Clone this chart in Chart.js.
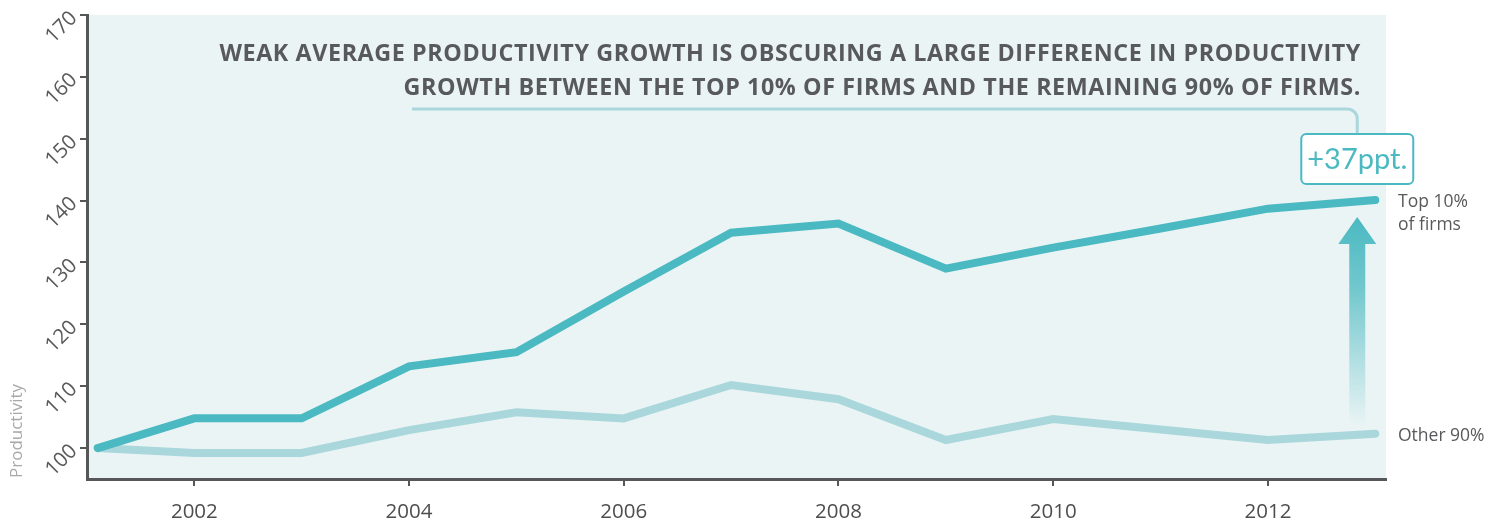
<!DOCTYPE html>
<html>
<head>
<meta charset="utf-8">
<script src="https://cdn.jsdelivr.net/npm/chart.js@4"></script>
<style>
  html, body { margin: 0; padding: 0; background: #ffffff; }
  #wrap { width: 1503px; height: 525px; position: relative; }
</style>
</head>
<body>
<div id="wrap"><canvas id="chart"></canvas></div>
<script>
// Productivity index (2001 = 100)
const years = [2001.1, 2002, 2003, 2004, 2005, 2006, 2007, 2008, 2009, 2010, 2011, 2012, 2013];
const top10 = [100, 104.8, 104.8, 113.2, 115.5, 125.3, 134.8, 136.3, 129.0, 132.4, 135.5, 138.7, 140.1];
const other90 = [100, 99.2, 99.2, 102.9, 105.8, 104.8, 110.2, 107.9, 101.3, 104.7, 103.0, 101.3, 102.3];
const xTickValues = [2002, 2004, 2006, 2008, 2010, 2012];
const yTickValues = [100, 110, 120, 130, 140, 150, 160, 170];
const seriesNames = ['Top 10%\nof firms', 'Other 90%'];
const gapLabel = '+37ppt.';
const titleLines = [
  'WEAK AVERAGE PRODUCTIVITY GROWTH IS OBSCURING A LARGE DIFFERENCE IN PRODUCTIVITY',
  'GROWTH BETWEEN THE TOP 10% OF FIRMS AND THE REMAINING 90% OF FIRMS.'
];
const yAxisTitle = 'Productivity';

const TEAL = '#4bb9c1';
const PALE = '#a9d7db';
const AXIS = '#555759';
const TEXT = '#58595b';

const toPoints = (vals) => vals.map((v, i) => ({ x: years[i], y: v }));

const decor = {
  id: 'decor',
  beforeDraw(chart) {
    const { ctx, chartArea: a } = chart;
    ctx.save();
    ctx.fillStyle = '#eaf4f5';
    ctx.fillRect(a.left, a.top, a.right - a.left, a.bottom - a.top);
    ctx.restore();
  },
  beforeDatasetsDraw(chart) {
    // gradient arrow between the two end values
    const { ctx, scales: { x, y } } = chart;
    const n = years.length - 1;
    const ax = x.getPixelForValue(years[n]) - 18;
    const tipY = y.getPixelForValue(top10[n]) + 17;
    const baseY = y.getPixelForValue(other90[n]) - 8;
    const headH = 27, headW = 19, shaftW = 8;
    const g = ctx.createLinearGradient(0, tipY, 0, baseY);
    g.addColorStop(0, 'rgba(75,185,193,1)');
    g.addColorStop(0.35, 'rgba(75,185,193,0.75)');
    g.addColorStop(1, 'rgba(75,185,193,0)');
    ctx.save();
    ctx.fillStyle = g;
    ctx.beginPath();
    ctx.moveTo(ax, tipY);
    ctx.lineTo(ax + headW, tipY + headH);
    ctx.lineTo(ax + shaftW, tipY + headH);
    ctx.lineTo(ax + shaftW, baseY);
    ctx.lineTo(ax - shaftW, baseY);
    ctx.lineTo(ax - shaftW, tipY + headH);
    ctx.lineTo(ax - headW, tipY + headH);
    ctx.closePath();
    ctx.fill();
    ctx.restore();
  },
  afterDraw(chart) {
    const { ctx, scales: { x, y }, chartArea: a } = chart;
    const n = years.length - 1;
    const ax = x.getPixelForValue(years[n]) - 18;
    ctx.save();

    // headline
    ctx.fillStyle = TEXT;
    ctx.font = '700 23.3px "Open Sans"';
    ctx.textAlign = 'right';
    ctx.textBaseline = 'alphabetic';
    ctx.letterSpacing = '0.6px';
    ctx.fillText(titleLines[0], 1361, 61);
    ctx.fillText(titleLines[1], 1361, 95);
    ctx.letterSpacing = '0px';

    // connector from headline to the gap box
    const boxTop = 134, boxBottom = 184, boxW = 112;
    ctx.strokeStyle = PALE;
    ctx.lineWidth = 3;
    ctx.beginPath();
    ctx.moveTo(412, 109);
    ctx.lineTo(ax - 10, 109);
    ctx.arcTo(ax, 109, ax, 119, 10);
    ctx.lineTo(ax, boxTop);
    ctx.stroke();

    // gap box
    ctx.fillStyle = '#ffffff';
    ctx.strokeStyle = TEAL;
    ctx.lineWidth = 2;
    ctx.beginPath();
    ctx.roundRect(ax - boxW / 2, boxTop, boxW, boxBottom - boxTop, 5);
    ctx.fill();
    ctx.stroke();
    ctx.fillStyle = TEAL;
    ctx.font = '400 29px Lato';
    ctx.textAlign = 'center';
    ctx.textBaseline = 'middle';
    ctx.fillText(gapLabel, ax, (boxTop + boxBottom) / 2 + 1);

    // series end labels
    ctx.fillStyle = TEXT;
    ctx.font = '400 17.5px "Open Sans"';
    ctx.textAlign = 'left';
    ctx.textBaseline = 'alphabetic';
    const lx = a.right + 12;
    const tY = y.getPixelForValue(top10[n]);
    const oY = y.getPixelForValue(other90[n]);
    const tl = seriesNames[0].split('\n');
    ctx.fillText(tl[0], lx, tY + 7);
    ctx.fillText(tl[1], lx, tY + 30);
    ctx.fillText(seriesNames[1], lx, oY + 7);

    // y axis title
    ctx.fillStyle = '#a7a9ac';
    ctx.font = '400 17px "Open Sans"';
    ctx.translate(22, 478);
    ctx.rotate(-Math.PI / 2);
    ctx.textAlign = 'left';
    ctx.fillText(yAxisTitle, 0, 0);
    ctx.restore();
  }
};

new Chart(document.getElementById('chart'), {
  type: 'line',
  data: {
    datasets: [
      {
        label: 'Top 10% of firms',
        data: toPoints(top10),
        borderColor: TEAL,
        borderWidth: 8,
        borderCapStyle: 'round',
        borderJoinStyle: 'miter',
        pointRadius: 0,
        tension: 0
      },
      {
        label: 'Other 90%',
        data: toPoints(other90),
        borderColor: PALE,
        borderWidth: 8,
        borderCapStyle: 'round',
        borderJoinStyle: 'miter',
        pointRadius: 0,
        tension: 0
      }
    ]
  },
  options: {
    responsive: true,
    maintainAspectRatio: false,
    animation: false,
    layout: { padding: { left: 0, top: 15, right: 117, bottom: 0 } },
    plugins: { legend: { display: false }, tooltip: { enabled: false } },
    scales: {
      x: {
        type: 'linear',
        min: 2001,
        max: 2013.1,
        afterBuildTicks: (s) => { s.ticks = xTickValues.map(v => ({ value: v })); },
        afterFit: (s) => { s.height = 46; s.paddingLeft = 0; s.paddingRight = 0; },
        ticks: {
          callback: (v) => String(v),
          color: '#4d4e50',
          font: { family: 'Open Sans', size: 20.5 },
          padding: 14,
          maxRotation: 0,
          autoSkip: false
        },
        grid: { drawOnChartArea: false, drawTicks: true, tickLength: 7, color: AXIS, lineWidth: 2 },
        border: { display: true, color: AXIS, width: 3 }
      },
      y: {
        min: 95,
        max: 170,
        afterBuildTicks: (s) => { s.ticks = yTickValues.map(v => ({ value: v })); },
        afterFit: (s) => { s.width = 87; s.paddingTop = 0; s.paddingBottom = 0; },
        ticks: {
          callback: (v) => String(v),
          color: TEXT,
          font: { family: 'Open Sans', size: 20.5 },
          minRotation: 45,
          maxRotation: 45,
          padding: 6,
          autoSkip: false
        },
        grid: { drawOnChartArea: false, drawTicks: true, tickLength: 7, color: AXIS, lineWidth: 2 },
        border: { display: true, color: AXIS, width: 3 }
      }
    }
  },
  plugins: [decor]
});
</script>
</body>
</html>
